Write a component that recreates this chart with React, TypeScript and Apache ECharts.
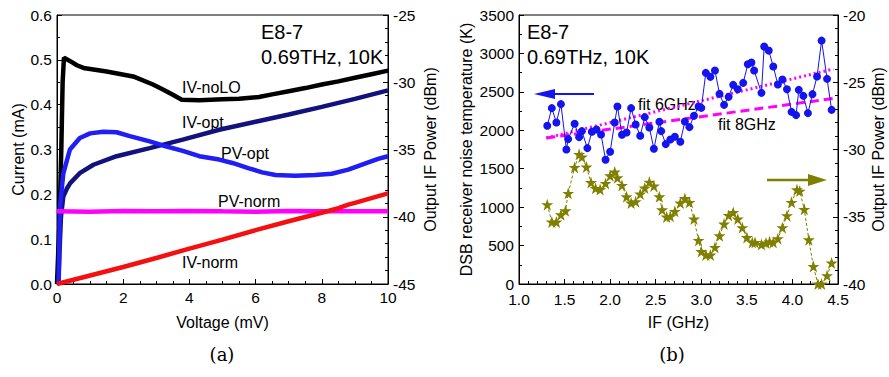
import React, { useEffect, useRef } from "react";
import * as echarts from "echarts";

// ---- Panel (a): I-V and P-V curves ----
const ivNoLO: [number, number][] = [
  [0, 0], [0.08, 0.15], [0.13, 0.3], [0.17, 0.45], [0.21, 0.505], [0.4, 0.497], [0.6, 0.488],
  [0.8, 0.482], [1.5, 0.474], [2.3, 0.463], [2.9, 0.445], [3.2, 0.434], [3.5, 0.422], [3.77, 0.411],
  [4.3, 0.41], [5.0, 0.412], [5.5, 0.413], [6.1, 0.417], [6.5, 0.423], [7.0, 0.43], [7.5, 0.437],
  [8.0, 0.445], [8.5, 0.452], [9.0, 0.46], [9.5, 0.468], [10, 0.476],
];
const ivOpt: [number, number][] = [
  [0.04, 0], [0.08, 0.08], [0.12, 0.15], [0.19, 0.195], [0.3, 0.213], [0.4, 0.225], [0.7, 0.248],
  [1.1, 0.266], [1.8, 0.285], [2.8, 0.303], [3.8, 0.322], [4.9, 0.344], [6.0, 0.362], [7.0, 0.378],
  [8.0, 0.395], [9.0, 0.413], [10, 0.432],
];
const pvOpt: [number, number][] = [
  [0.05, -45], [0.09, -39.2], [0.19, -36.8], [0.39, -35.0], [0.69, -34.15], [1.0, -33.8], [1.4, -33.68],
  [1.8, -33.72], [2.2, -34.0], [2.8, -34.4], [3.2, -34.7], [3.8, -35.1], [4.3, -35.5], [4.9, -35.75],
  [5.3, -36.0], [5.8, -36.4], [6.2, -36.7], [6.6, -36.9], [7.2, -36.95], [7.8, -36.9], [8.3, -36.8],
  [8.8, -36.5], [9.3, -36.05], [9.7, -35.7], [10, -35.5],
];
const pvNorm: [number, number][] = [
  [0, -39.6], [1, -39.62], [2, -39.58], [3, -39.6], [4, -39.57], [5, -39.6], [6, -39.62], [7, -39.58],
  [8, -39.6], [9, -39.6], [10, -39.6],
];
const ivNorm: [number, number][] = [
  [0, 0], [1, 0.019], [2, 0.038], [3, 0.058], [4, 0.079], [5, 0.099], [6, 0.12], [7, 0.14],
  [8, 0.159], [8.5, 0.169], [8.8, 0.177], [9, 0.181], [10, 0.202],
];

// ---- Panel (b): noise temperature and IF power vs IF ----
const noiseIF = [
  1.31, 1.36, 1.41, 1.46, 1.52, 1.54, 1.61, 1.66, 1.69, 1.75, 1.80, 1.85, 1.90, 1.95, 2.00, 2.05, 2.08,
  2.13, 2.18, 2.23, 2.28, 2.33, 2.38, 2.43, 2.48, 2.54, 2.56, 2.61, 2.66, 2.71, 2.77, 2.82, 2.87, 2.92,
  2.97, 3.00, 3.05, 3.10, 3.15, 3.20, 3.25, 3.30, 3.35, 3.40, 3.46, 3.51, 3.55, 3.58, 3.66, 3.69, 3.74,
  3.79, 3.84, 3.89, 3.94, 3.99, 4.04, 4.07, 4.12, 4.17, 4.22, 4.27, 4.32, 4.38, 4.43,
];
const noiseT = [
  2059, 2288, 2102, 2340, 1751, 1885, 2085, 1911, 1989, 1768, 1980, 2010, 1946, 1617, 1721, 2102, 2310,
  1942, 1972, 2288, 2076, 1929, 2171, 2037, 1760, 2110, 1989, 1820, 1881, 1915, 1851, 2115, 2041, 2188,
  2310, 2292, 2747, 2695, 2777, 2474, 2331, 2435, 2591, 2535, 2617, 2859, 2881, 2777, 2487, 3089, 3037,
  2829, 2595, 2660, 2535, 2240, 2197, 2526, 2448, 2223, 2470, 2699, 3167, 2669, 2266,
];
const fit6: [number, number][] = [[1.3, 1900], [4.45, 2797]];
const fit8: [number, number][] = [[1.3, 1900], [4.45, 2415]];
const powerIF = [
  1.31, 1.36, 1.41, 1.46, 1.51, 1.54, 1.61, 1.66, 1.69, 1.74, 1.79, 1.84, 1.89, 1.95, 2.00, 2.05, 2.08,
  2.13, 2.18, 2.23, 2.28, 2.33, 2.38, 2.43, 2.48, 2.54, 2.57, 2.62, 2.66, 2.71, 2.77, 2.82, 2.87, 2.92,
  2.97, 3.00, 3.05, 3.10, 3.15, 3.20, 3.25, 3.30, 3.35, 3.40, 3.45, 3.50, 3.56, 3.59, 3.66, 3.71, 3.75,
  3.79, 3.84, 3.89, 3.94, 3.99, 4.05, 4.08, 4.13, 4.18, 4.23, 4.28, 4.32, 4.38, 4.43,
];
const powerDBm = [
  -34.1, -35.39, -35.39, -34.85, -34.55, -33.26, -31.33, -30.36, -30.56, -31.3, -32.45, -32.89, -32.97,
  -32.52, -31.95, -31.67, -32.1, -32.67, -33.51, -33.98, -33.88, -33.31, -32.86, -32.42, -32.71, -33.51,
  -34.48, -35.02, -34.97, -34.6, -33.98, -33.64, -33.93, -35.17, -36.76, -37.58, -37.84, -37.84, -37.28,
  -36.41, -35.54, -34.9, -34.68, -35.17, -35.81, -36.54, -36.91, -36.91, -37.06, -36.95, -36.86, -36.91,
  -36.63, -35.81, -34.92, -33.93, -32.99, -33.09, -34.45, -36.71, -38.69, -40.0, -40.0, -39.38, -38.44,
];

const FONT = "Liberation Sans";
const STAR =
  "path://M50,0L61.8,35.1L98.8,35.1L68.9,56.9L80.3,91.9L50,70.3L19.7,91.9L31.1,56.9L1.2,35.1L38.2,35.1Z";

function axisBase(extra: any) {
  return {
    type: "value",
    nameLocation: "middle",
    nameTextStyle: { fontFamily: FONT, fontSize: 16, color: "#000" },
    axisLine: { show: true, onZero: false, lineStyle: { color: "#000", width: 1 } },
    axisTick: { show: true, inside: true, length: 5, lineStyle: { color: "#000" } },
    minorTick: { show: true, length: 3, lineStyle: { color: "#000" } },
    splitLine: { show: false },
    axisLabel: { fontFamily: FONT, fontSize: 15.5, color: "#000", margin: 5, formatter: (v: number) => String(v) },
    ...extra,
  };
}

export default function App() {
  const ref = useRef<HTMLDivElement>(null);
  useEffect(() => {
    document.body.style.margin = "0";
    const chart = echarts.init(ref.current!, null, { renderer: "svg" });
    const txt = (x: number, y: number, s: string, size = 16, family = FONT) => ({
      type: "text",
      x,
      y,
      style: { text: s, fontFamily: family, fontSize: size, fill: "#000", verticalAlign: "middle", align: "left" },
    });
    chart.setOption({
      animation: false,
      backgroundColor: "#fff",
      grid: [
        { left: 57, top: 15, width: 331, height: 269, show: true, borderColor: "#000", borderWidth: 1 },
        { left: 519, top: 15, width: 319, height: 269, show: true, borderColor: "#000", borderWidth: 1 },
      ],
      xAxis: [
        axisBase({
          gridIndex: 0, min: 0, max: 10, interval: 2, name: "Voltage (mV)", nameGap: 30,
          minorTick: { show: true, splitNumber: 4, length: 3, lineStyle: { color: "#000" } },
        }),
        axisBase({
          gridIndex: 1, min: 1, max: 4.5, interval: 0.5, name: "IF (GHz)", nameGap: 30,
          minorTick: { show: true, splitNumber: 5, length: 3, lineStyle: { color: "#000" } },
          axisLabel: { fontFamily: FONT, fontSize: 15.5, color: "#000", margin: 7, formatter: (v: number) => v.toFixed(1) },
        }),
      ],
      yAxis: [
        axisBase({
          gridIndex: 0, position: "left", min: 0, max: 0.6, interval: 0.1, name: "Current (mA)", nameGap: 31,
          nameRotate: 90,
          minorTick: { show: true, splitNumber: 2, length: 3, lineStyle: { color: "#000" } },
          axisLabel: { fontFamily: FONT, fontSize: 15.5, color: "#000", margin: 5, formatter: (v: number) => v.toFixed(1) },
        }),
        axisBase({
          gridIndex: 0, position: "right", min: -45, max: -25, interval: 5, name: "Output IF Power (dBm)",
          nameGap: 34, nameRotate: 90,
          minorTick: { show: true, splitNumber: 5, length: 3, lineStyle: { color: "#000" } },
        }),
        axisBase({
          gridIndex: 1, position: "left", min: 0, max: 3500, interval: 500,
          name: "DSB receiver noise temperature (K)", nameGap: 45, nameRotate: 90,
          minorTick: { show: true, splitNumber: 2, length: 3, lineStyle: { color: "#000" } },
        }),
        axisBase({
          gridIndex: 1, position: "right", min: -40, max: -20, interval: 5, name: "Output IF Power (dBm)",
          nameGap: 32, nameRotate: 90,
          minorTick: { show: true, splitNumber: 5, length: 3, lineStyle: { color: "#000" } },
        }),
      ],
      series: [
        { type: "line", xAxisIndex: 0, yAxisIndex: 0, data: ivNoLO, showSymbol: false, lineStyle: { color: "#000", width: 4.5 } },
        { type: "line", xAxisIndex: 0, yAxisIndex: 0, data: ivOpt, showSymbol: false, lineStyle: { color: "#12127e", width: 4.5 } },
        { type: "line", xAxisIndex: 0, yAxisIndex: 1, data: pvOpt, showSymbol: false, lineStyle: { color: "#1e1ef5", width: 4.5 } },
        { type: "line", xAxisIndex: 0, yAxisIndex: 1, data: pvNorm, showSymbol: false, lineStyle: { color: "#ff00ff", width: 4.5 } },
        { type: "line", xAxisIndex: 0, yAxisIndex: 0, data: ivNorm, showSymbol: false, lineStyle: { color: "#f21010", width: 4.5 } },
        { type: "line", xAxisIndex: 1, yAxisIndex: 2, data: fit6, showSymbol: false, lineStyle: { color: "#ff00ff", width: 3, type: [2, 3] } },
        { type: "line", xAxisIndex: 1, yAxisIndex: 2, data: fit8, showSymbol: false, lineStyle: { color: "#ff00ff", width: 3, type: [9, 5] } },
        {
          type: "line", xAxisIndex: 1, yAxisIndex: 2, data: noiseIF.map((x, i) => [x, noiseT[i]]),
          symbol: "circle", symbolSize: 8, itemStyle: { color: "#1414ee" }, lineStyle: { color: "#1414ee", width: 1 },
        },
        {
          type: "line", xAxisIndex: 1, yAxisIndex: 3, data: powerIF.map((x, i) => [x, powerDBm[i]]),
          symbol: STAR, symbolSize: 12, itemStyle: { color: "#808000" },
          lineStyle: { color: "#808000", width: 1, type: [3, 2] },
        },
      ],
      graphic: [
        txt(261, 32, "E8-7", 20),
        txt(261, 57, "0.69THz, 10K", 20),
        txt(182, 87, "IV-noLO"),
        txt(182, 122, "IV-opt"),
        txt(221, 153, "PV-opt"),
        txt(218, 201, "PV-norm"),
        txt(182, 262, "IV-norm"),
        txt(527, 32, "E8-7", 20),
        txt(527, 57, "0.69THz, 10K", 20),
        txt(638, 104, "fit 6GHz"),
        txt(718, 124, "fit 8GHz"),
        { type: "line", shape: { x1: 548, y1: 94, x2: 594, y2: 94 }, style: { stroke: "#1414ee", lineWidth: 2 } },
        { type: "polygon", shape: { points: [[534, 94], [555, 89], [555, 99]] }, style: { fill: "#1414ee" } },
        { type: "line", shape: { x1: 767, y1: 180, x2: 812, y2: 180 }, style: { stroke: "#808000", lineWidth: 2.5 } },
        { type: "polygon", shape: { points: [[827, 180], [808, 174], [808, 186]] }, style: { fill: "#808000" } },
        {
          type: "text", x: 222, y: 354,
          style: { text: "(a)", fontFamily: "DejaVu Serif", fontSize: 18, fill: "#000", align: "center", verticalAlign: "middle" },
        },
        {
          type: "text", x: 672, y: 354,
          style: { text: "(b)", fontFamily: "DejaVu Serif", fontSize: 18, fill: "#000", align: "center", verticalAlign: "middle" },
        },
      ],
    });
    return () => chart.dispose();
  }, []);
  return <div ref={ref} style={{ width: 889, height: 377 }} />;
}
